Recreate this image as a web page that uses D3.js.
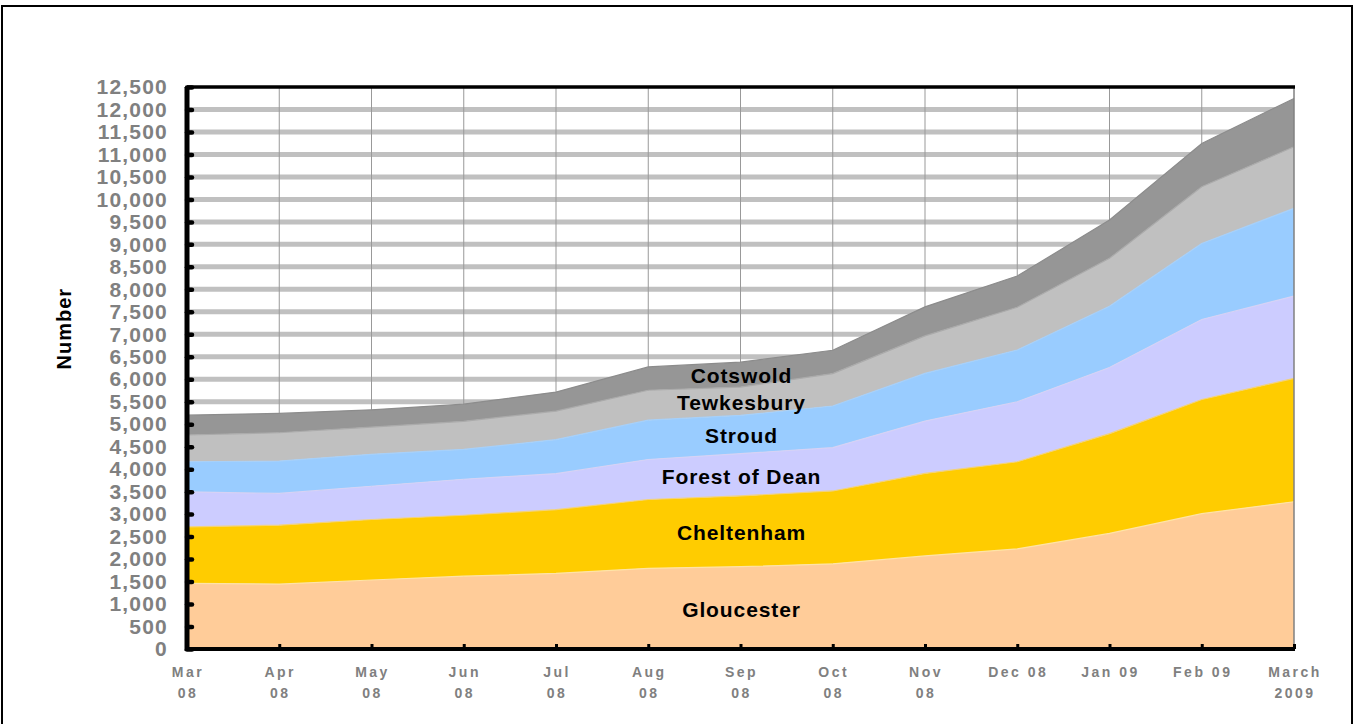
<!DOCTYPE html>
<meta charset="utf-8">

<!-- Load d3.js -->
<script src="https://d3js.org/d3.v7.min.js"></script>

<style>
  body { margin: 0; background: #fff; }
</style>

<!-- Create a div where the graph will take place -->
<div id="my_dataviz"></div>

<script>

// months along the x axis, and how their labels break into lines
var months = ["Mar 08", "Apr 08", "May 08", "Jun 08", "Jul 08", "Aug 08", "Sep 08",
              "Oct 08", "Nov 08", "Dec 08", "Jan 09", "Feb 09", "March 2009"];
var monthLabels = [["Mar", "08"], ["Apr", "08"], ["May", "08"], ["Jun", "08"], ["Jul", "08"],
                   ["Aug", "08"], ["Sep", "08"], ["Oct", "08"], ["Nov", "08"], ["Dec 08"],
                   ["Jan 09"], ["Feb 09"], ["March", "2009"]];

// numbers per district (stacked, bottom to top)
var gloucester   = [1460, 1445, 1535, 1620, 1680, 1795, 1830, 1895, 2070, 2225, 2570, 3010, 3275];
var cheltenham   = [1255, 1310, 1345, 1355, 1420, 1530, 1575, 1620, 1835, 1940, 2220, 2540, 2745];
var forestOfDean = [ 780,  705,  740,  800,  800,  890,  940,  965, 1165, 1335, 1470, 1780, 1830];
var stroud       = [ 670,  720,  710,  665,  755,  875,  850,  925, 1060, 1150, 1365, 1690, 1950];
var tewkesbury   = [ 595,  630,  605,  625,  635,  665,  630,  720,  835,  950, 1065, 1260, 1370];
var cotswold     = [ 440,  430,  385,  380,  425,  520,  555,  520,  645,  695,  850,  965, 1075];

var districts = ["Gloucester", "Cheltenham", "Forest of Dean", "Stroud", "Tewkesbury", "Cotswold"];
var series = [gloucester, cheltenham, forestOfDean, stroud, tewkesbury, cotswold];

var yTicks = [0, 500, 1000, 1500, 2000, 2500, 3000, 3500, 4000, 4500, 5000, 5500, 6000,
              6500, 7000, 7500, 8000, 8500, 9000, 9500, 10000, 10500, 11000, 11500, 12000, 12500];

var colours = ["#FFCC99", "#FFCC00", "#CCCCFF", "#99CCFF", "#C0C0C0", "#969696"];
var edgeColours = ["#FFE3A6", "#F2D27A", "#D6D2F5", "#A6D0FA", "#ABABAB", "#8C8C8C"];

// build the table d3.stack needs
var data = months.map(function(m, i) {
  var row = {month: m};
  districts.forEach(function(d, j) { row[d] = series[j][i]; });
  return row;
});

// set the dimensions and margins of the graph
var margin = {top: 87, right: 61, bottom: 75, left: 187},
    width = 1355 - margin.left - margin.right,
    height = 724 - margin.top - margin.bottom;

var root = d3.select("#my_dataviz")
  .append("svg")
    .attr("width", 1355)
    .attr("height", 724);

// outer frame
root.append("rect")
    .attr("x", 2)
    .attr("y", 6)
    .attr("width", 1350)
    .attr("height", 740)
    .attr("fill", "none")
    .attr("stroke", "#000")
    .attr("stroke-width", 2);

var svg = root.append("g")
    .attr("transform", "translate(" + margin.left + "," + margin.top + ")");

var x = d3.scalePoint()
  .domain(months)
  .range([0, width]);

var y = d3.scaleLinear()
  .domain([0, 12500])
  .range([height, 0]);

// horizontal grid bands
svg.append("g")
  .selectAll("line")
  .data(yTicks.filter(function(t) { return t > 0 && t < 12500; }))
  .enter().append("line")
    .attr("x1", 0)
    .attr("x2", width)
    .attr("y1", function(d) { return y(d); })
    .attr("y2", function(d) { return y(d); })
    .attr("stroke", "#C0C0C0")
    .attr("stroke-width", 5);

// vertical grid lines
svg.append("g")
  .selectAll("line")
  .data(months.slice(1, -1))
  .enter().append("line")
    .attr("x1", function(d) { return x(d); })
    .attr("x2", function(d) { return x(d); })
    .attr("y1", 0)
    .attr("y2", height)
    .attr("stroke", "#999")
    .attr("stroke-width", 1);

// stacked areas
var stacked = d3.stack().keys(districts)(data);

svg.append("g")
  .selectAll("path")
  .data(stacked)
  .enter().append("path")
    .attr("fill", function(d, i) { return colours[i]; })
    .attr("d", d3.area()
      .x(function(d) { return x(d.data.month); })
      .y0(function(d) { return y(d[0]); })
      .y1(function(d) { return y(d[1]); }));

// thin edge along the top of each layer
svg.append("g")
  .selectAll("path")
  .data(stacked)
  .enter().append("path")
    .attr("fill", "none")
    .attr("stroke", function(d, i) { return edgeColours[i]; })
    .attr("stroke-width", 1.2)
    .attr("d", d3.line()
      .x(function(d) { return x(d.data.month); })
      .y(function(d) { return y(d[1]); }));

// right border of the plot
svg.append("line")
    .attr("x1", width)
    .attr("x2", width)
    .attr("y1", 0)
    .attr("y2", height)
    .attr("stroke", "#808080")
    .attr("stroke-width", 1.5);

// top border of the plot
svg.append("line")
    .attr("x1", 0)
    .attr("x2", width + 1)
    .attr("y1", 0)
    .attr("y2", 0)
    .attr("stroke", "#000")
    .attr("stroke-width", 3.5);

// district names inside their layers, at Sep 08
var labelMonth = months.indexOf("Sep 08");
svg.append("g")
  .selectAll("text")
  .data(stacked)
  .enter().append("text")
    .attr("x", x(months[labelMonth]) + 1)
    .attr("y", function(d) { return y((d[labelMonth][0] + d[labelMonth][1]) / 2); })
    .attr("dy", "0.42em")
    .attr("text-anchor", "middle")
    .style("font-family", "'Liberation Sans', Arial, sans-serif")
    .style("font-weight", "bold")
    .style("font-size", "21px")
    .style("letter-spacing", "0.9px")
    .style("fill", "#000")
    .text(function(d) { return d.key; });

// Y axis
var yAxis = svg.append("g")
  .call(d3.axisLeft(y)
    .tickValues(yTicks)
    .tickFormat(d3.format(","))
    .tickSize(-5)
    .tickPadding(19));
yAxis.select(".domain")
    .attr("stroke", "#000")
    .attr("stroke-width", 5)
    .attr("d", "M0," + (height + 2) + "V0");
yAxis.selectAll(".tick line")
    .attr("stroke", "#000")
    .attr("stroke-width", 4.5)
    .attr("stroke-linecap", "round");
yAxis.selectAll(".tick text")
    .style("font-family", "'Liberation Sans', Arial, sans-serif")
    .style("font-weight", "bold")
    .style("font-size", "21px")
    .style("letter-spacing", "1.2px")
    .style("fill", "#808080");

// X axis
var xAxis = svg.append("g")
  .attr("transform", "translate(0," + height + ")")
  .call(d3.axisBottom(x)
    .tickSize(-5)
    .tickFormat(""));
xAxis.select(".domain")
    .attr("stroke", "#000")
    .attr("stroke-width", 4)
    .attr("d", "M-2,0H" + (width + 1));
xAxis.selectAll(".tick line")
    .attr("stroke", "#000")
    .attr("stroke-width", 3);

// two-line month labels
var monthText = svg.append("g")
  .selectAll("text")
  .data(months)
  .enter().append("text")
    .attr("x", function(d) { return x(d) + 1; })
    .attr("y", height + 28)
    .attr("text-anchor", "middle")
    .style("font-family", "'Liberation Sans', Arial, sans-serif")
    .style("font-weight", "bold")
    .style("font-size", "14px")
    .style("letter-spacing", "2.5px")
    .style("fill", "#808080");
monthText.each(function(d, i) {
  var t = d3.select(this);
  monthLabels[i].forEach(function(line, k) {
    t.append("tspan")
      .attr("x", x(d) + 1)
      .attr("dy", k === 0 ? 0 : 21)
      .text(line);
  });
});

// text label for the y axis
root.append("text")
    .attr("transform", "translate(71," + (margin.top + height * 0.43) + ") rotate(-90)")
    .attr("text-anchor", "middle")
    .style("font-family", "'Liberation Sans', Arial, sans-serif")
    .style("font-weight", "bold")
    .style("font-size", "20px")
    .style("letter-spacing", "1px")
    .style("fill", "#000")
    .text("Number");

</script>
